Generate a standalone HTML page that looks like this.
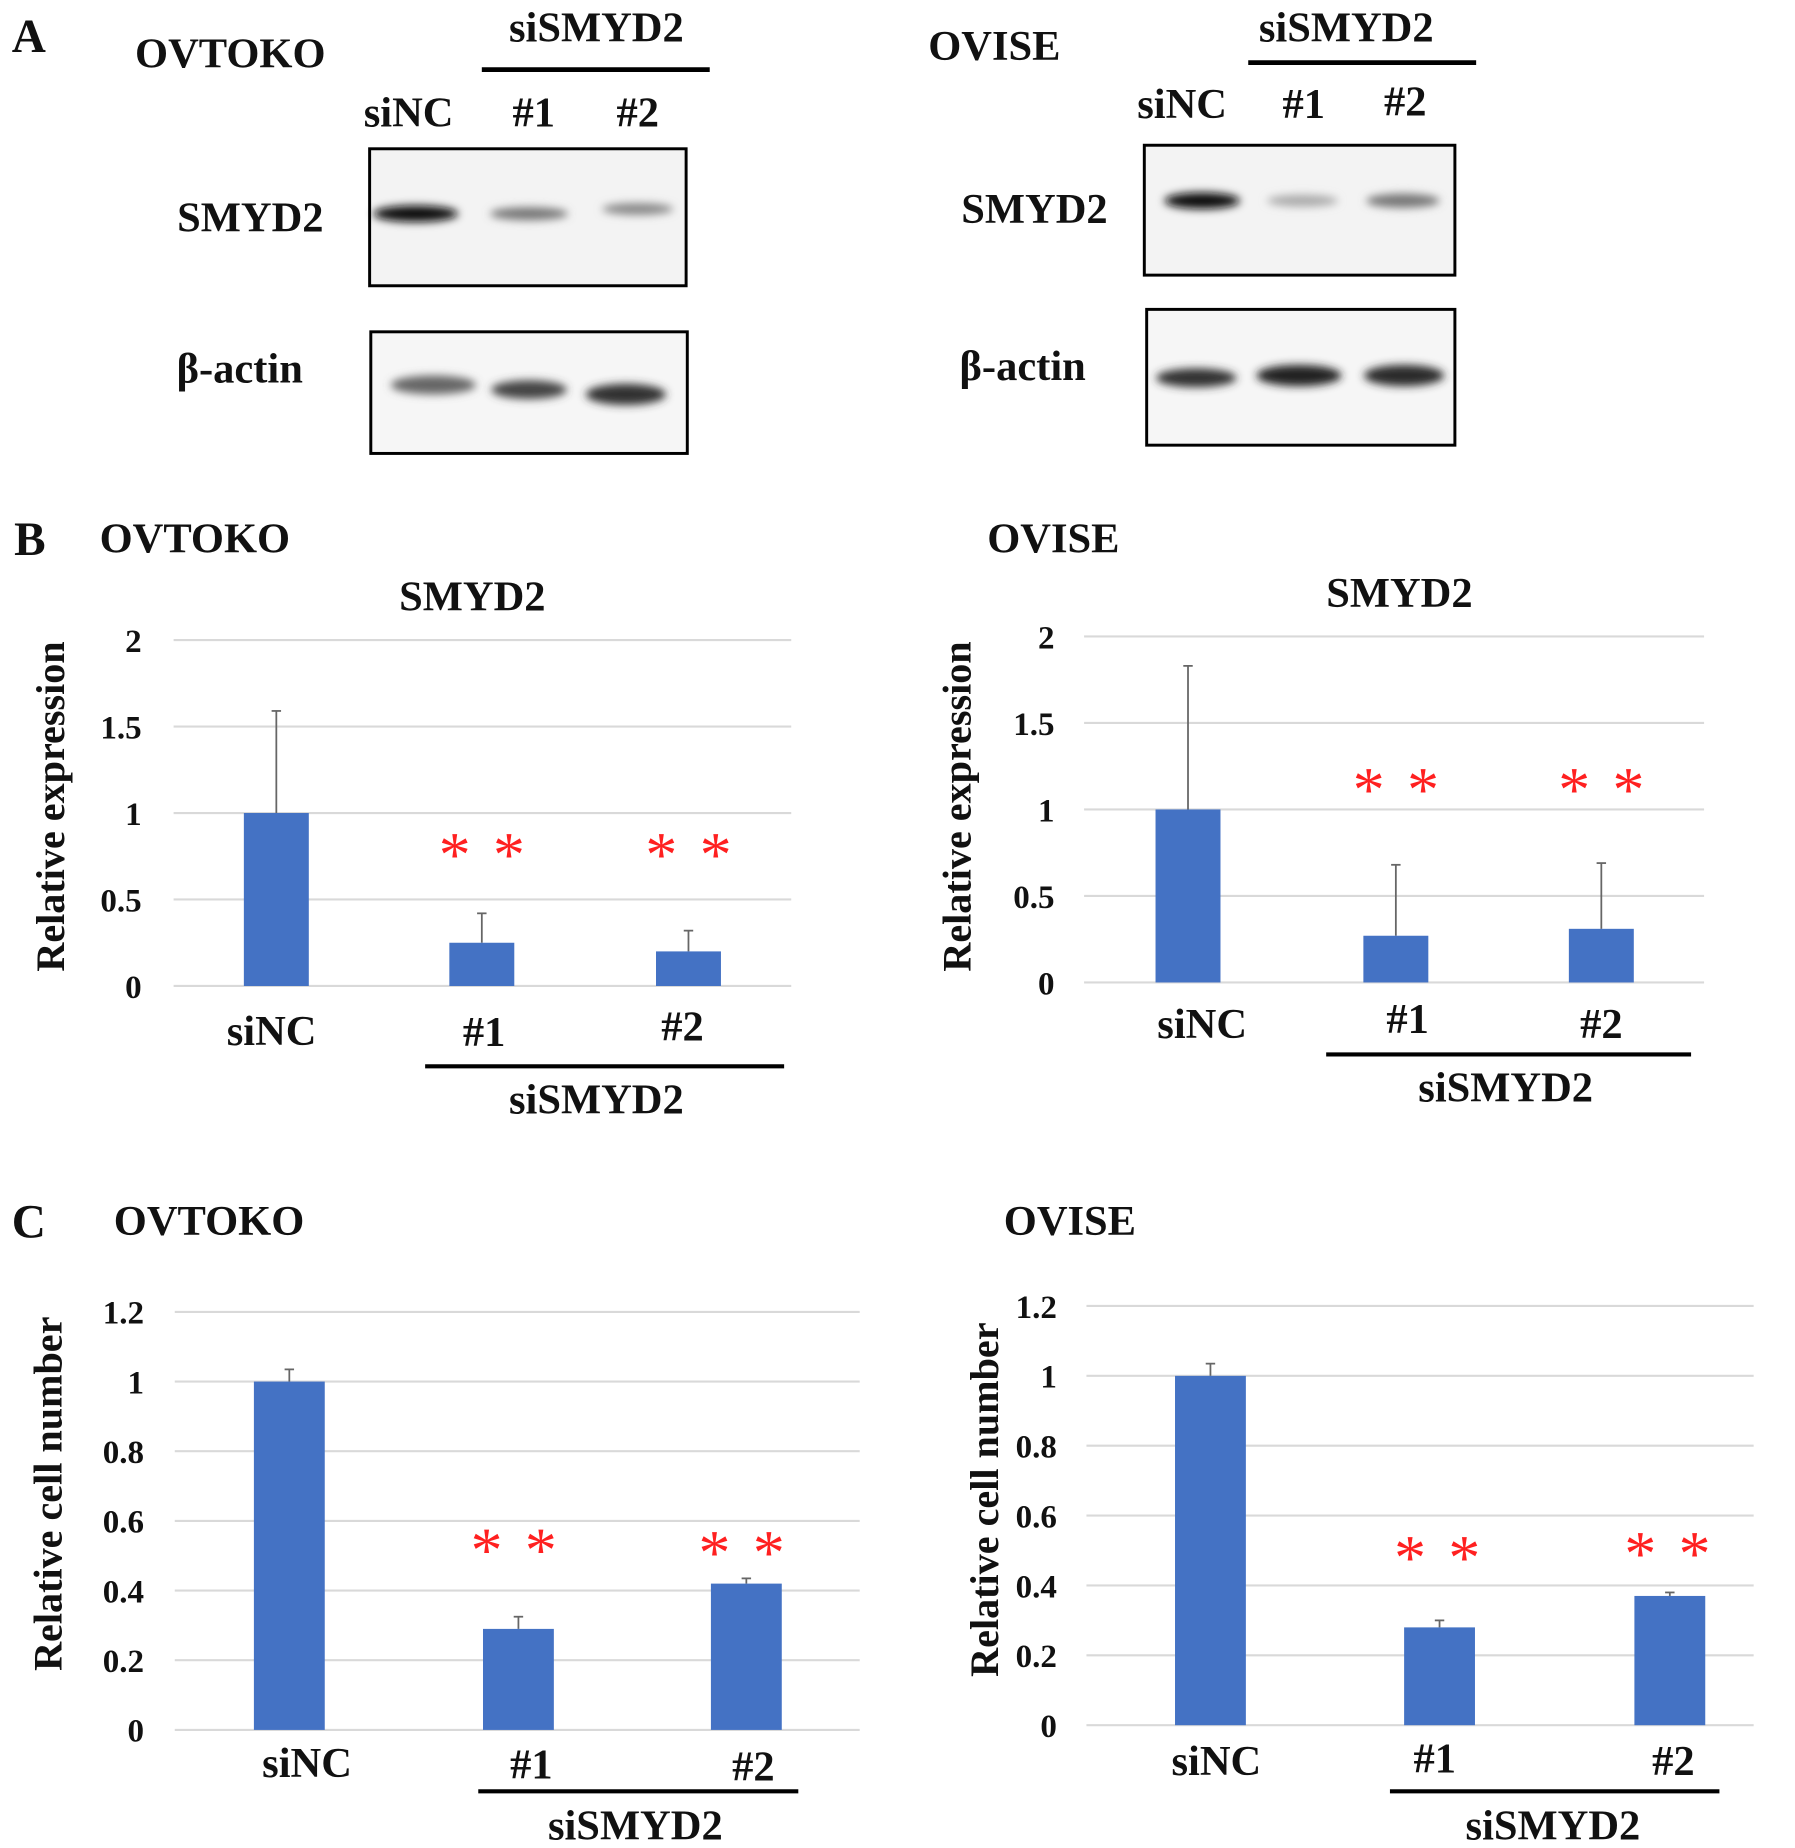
<!DOCTYPE html>
<html><head><meta charset="utf-8"><style>
html,body{margin:0;padding:0;background:#fff}
svg{display:block}
text{font-family:"Liberation Serif",serif;font-weight:bold;fill:#111}
</style></head><body>
<svg id="fig" width="1795" height="1848" viewBox="0 0 1520 1565" preserveAspectRatio="none" xmlns="http://www.w3.org/2000/svg">
<defs>
<filter id="blur" x="-50%" y="-100%" width="200%" height="300%"><feGaussianBlur stdDeviation="3.5"/></filter>
</defs>
<g>
<text x="10" y="44" font-size="40">A</text>
<text x="195" y="57" font-size="36" text-anchor="middle">OVTOKO</text>
<text x="505" y="35" font-size="36" text-anchor="middle">siSMYD2</text>
<line x1="408" y1="59" x2="601" y2="59" stroke="#000" stroke-width="4"/>
<text x="346" y="107" font-size="36" text-anchor="middle">siNC</text>
<text x="452" y="107" font-size="36" text-anchor="middle">#1</text>
<text x="540" y="107" font-size="36" text-anchor="middle">#2</text>
<text x="212" y="196" font-size="36" text-anchor="middle">SMYD2</text>
<text x="203" y="324" font-size="36" text-anchor="middle">β-actin</text>
<rect x="313" y="126" width="268" height="116" fill="#f3f3f3" stroke="#000" stroke-width="2.5"/>
<rect x="314" y="281" width="268" height="103" fill="#f6f6f6" stroke="#000" stroke-width="2.5"/>
<g filter="url(#blur)">
<ellipse cx="352" cy="181" rx="36" ry="7" fill="#111"/>
<ellipse cx="448" cy="181" rx="33" ry="5.5" fill="#777"/>
<ellipse cx="540" cy="177" rx="30" ry="5" fill="#888"/>
<ellipse cx="367" cy="326" rx="36" ry="8" fill="#666"/>
<ellipse cx="448" cy="330" rx="32" ry="8" fill="#444"/>
<ellipse cx="530" cy="334" rx="34" ry="9" fill="#333"/>
</g>
<text x="842" y="51" font-size="36" text-anchor="middle">OVISE</text>
<text x="1140" y="35" font-size="36" text-anchor="middle">siSMYD2</text>
<line x1="1057" y1="53" x2="1250" y2="53" stroke="#000" stroke-width="4"/>
<text x="1001" y="100" font-size="36" text-anchor="middle">siNC</text>
<text x="1104" y="100" font-size="36" text-anchor="middle">#1</text>
<text x="1190" y="98" font-size="36" text-anchor="middle">#2</text>
<text x="876" y="189" font-size="36" text-anchor="middle">SMYD2</text>
<text x="866" y="322" font-size="36" text-anchor="middle">β-actin</text>
<rect x="969" y="123" width="263" height="110" fill="#f3f3f3" stroke="#000" stroke-width="2.5"/>
<rect x="971" y="262" width="261" height="115" fill="#f6f6f6" stroke="#000" stroke-width="2.5"/>
<g filter="url(#blur)">
<ellipse cx="1018" cy="170" rx="32" ry="7" fill="#111"/>
<ellipse cx="1103" cy="170" rx="30" ry="5" fill="#aaa"/>
<ellipse cx="1188" cy="170" rx="31" ry="6" fill="#777"/>
<ellipse cx="1013" cy="320" rx="34" ry="8" fill="#333"/>
<ellipse cx="1100" cy="318" rx="36" ry="9" fill="#222"/>
<ellipse cx="1189" cy="318" rx="34" ry="9" fill="#2a2a2a"/>
</g>
</g>
<text x="12" y="470" font-size="40">B</text>
<text x="165" y="468" font-size="36" text-anchor="middle">OVTOKO</text>
<text x="892" y="468" font-size="36" text-anchor="middle">OVISE</text>
<text x="10" y="1048" font-size="40">C</text>
<text x="177" y="1046" font-size="36" text-anchor="middle">OVTOKO</text>
<text x="906" y="1046" font-size="36" text-anchor="middle">OVISE</text>
<g id="charts"></g>
</svg>
<script>
// Data arrays
const categories = ["siNC", "#1", "#2"];
const bOvtokoValues = [1, 0.25, 0.2];
const bOvtokoErrors = [0.59, 0.17, 0.12];
const bOviseValues = [1, 0.27, 0.31];
const bOviseErrors = [0.83, 0.41, 0.38];
const cOvtokoValues = [1, 0.29, 0.42];
const cOvtokoErrors = [0.035, 0.035, 0.015];
const cOviseValues = [1, 0.28, 0.37];
const cOviseErrors = [0.035, 0.02, 0.01];
const bTicks = ["0", "0.5", "1", "1.5", "2"];
const cTicks = ["0", "0.2", "0.4", "0.6", "0.8", "1", "1.2"];
const sigFlags = [false, true, true];

const NS = "http://www.w3.org/2000/svg";
const root = document.getElementById("charts");
function mk(tag, attrs, parent) {
  const e = document.createElementNS(NS, tag);
  for (const k in attrs) e.setAttribute(k, attrs[k]);
  (parent || root).appendChild(e);
  return e;
}
function drawChart(cfg) {
  const g = mk("g", {});
  
  
  const maxV = parseFloat(cfg.ticks[cfg.ticks.length - 1]);
  const y = v => cfg.y0 - (v / maxV) * (cfg.y0 - cfg.yTop);
  const x = i => cfg.cx[i];
  cfg.ticks.forEach(t => {
    const v = parseFloat(t);
    const l = mk("line", {x1: cfg.gx1, x2: cfg.gx2, y1: y(v), y2: y(v), stroke: "#d9d9d9", "stroke-width": 1.8}, g);
    
    
    const tx = mk("text", {x: cfg.tickX, y: y(v) + 10, "font-size": 28, "text-anchor": "end"}, g);
    tx.textContent = t;
    
    
  });
  const yl = mk("text", {x: 0, y: 0, "font-size": 34, "text-anchor": "middle", transform: `translate(${cfg.ylX},${cfg.ylY}) rotate(-90)`}, g);
  yl.textContent = cfg.ylabel;
  
  
  if (cfg.title) {
    const tt = mk("text", {x: cfg.title[0], y: cfg.title[1], "font-size": 36, "text-anchor": "middle"}, g);
    tt.textContent = "SMYD2";
    
    
  }
  cfg.values.forEach((v, i) => {
    const top = v + cfg.errors[i];
    const el = mk("line", {x1: x(i), x2: x(i), y1: y(v), y2: y(top), stroke: "#666", "stroke-width": 1.5}, g);
    
    
    const cap = mk("line", {x1: x(i) - 4, x2: x(i) + 4, y1: y(top), y2: y(top), stroke: "#666", "stroke-width": 1.5}, g);
    
    
    const r = mk("rect", {x: x(i) - cfg.bw / 2, y: y(v), width: cfg.bw, height: cfg.y0 - y(v), fill: "#4472c4"}, g);
    
    
    const cl = mk("text", {x: cfg.catX[i], y: cfg.catY[i] + 2, "font-size": 36, "text-anchor": "middle"}, g);
    cl.textContent = categories[i];
    
    
    if (sigFlags[i]) {
      [-23, 23].forEach(d => {
        const s = mk("text", {x: x(i) + d + cfg.astOff, y: cfg.astY[i] + 24, "font-size": 54, "text-anchor": "middle", style: "fill:#ff2020;font-weight:normal"}, g);
        s.textContent = "*";
        
        
      });
    }
  });
  const bl = mk("line", {x1: cfg.line[0], x2: cfg.line[1], y1: cfg.line[2], y2: cfg.line[2], stroke: "#000", "stroke-width": 3.5}, g);
  
  
  const gl = mk("text", {x: cfg.grp[0], y: cfg.grp[1] + 2, "font-size": 36, "text-anchor": "middle"}, g);
  gl.textContent = "siSMYD2";
  
  
}
drawChart({name: "chart-b-ovtoko", ticks: bTicks, values: bOvtokoValues, errors: bOvtokoErrors,
  gx1: 147, gx2: 670, y0: 835, yTop: 542, cx: [234, 408, 583], bw: 55, tickX: 120,
  ylX: 54, ylY: 683, ylabel: "Relative expression", title: [400, 517],
  catX: [230, 410, 578], catY: [883, 884, 879], astY: [0, 718, 718], astOff: 0,
  line: [360, 664, 903], grp: [505, 941]});
drawChart({name: "chart-b-ovise", ticks: bTicks, values: bOviseValues, errors: bOviseErrors,
  gx1: 918, gx2: 1443, y0: 832, yTop: 539, cx: [1006, 1182, 1356], bw: 55, tickX: 893,
  ylX: 822, ylY: 683, ylabel: "Relative expression", title: [1185, 514],
  catX: [1018, 1192, 1356], catY: [877, 873, 877], astY: [0, 663, 663], astOff: 0,
  line: [1123, 1432, 893], grp: [1275, 931]});
drawChart({name: "chart-c-ovtoko", ticks: cTicks, values: cOvtokoValues, errors: cOvtokoErrors,
  gx1: 148, gx2: 728, y0: 1465, yTop: 1111, cx: [245, 439, 632], bw: 60, tickX: 122,
  ylX: 52, ylY: 1265, ylabel: "Relative cell number", title: null,
  catX: [260, 450, 638], catY: [1503, 1504, 1506], astY: [0, 1307, 1309], astOff: -4,
  line: [405, 676, 1517], grp: [538, 1556]});
drawChart({name: "chart-c-ovise", ticks: cTicks, values: cOviseValues, errors: cOviseErrors,
  gx1: 920, gx2: 1485, y0: 1461, yTop: 1106, cx: [1025, 1219, 1414], bw: 60, tickX: 895,
  ylX: 845, ylY: 1270, ylabel: "Relative cell number", title: null,
  catX: [1030, 1215, 1417], catY: [1501, 1499, 1501], astY: [0, 1313, 1310], astOff: -2,
  line: [1177, 1456, 1517], grp: [1315, 1556]});
</script>
</body></html>
